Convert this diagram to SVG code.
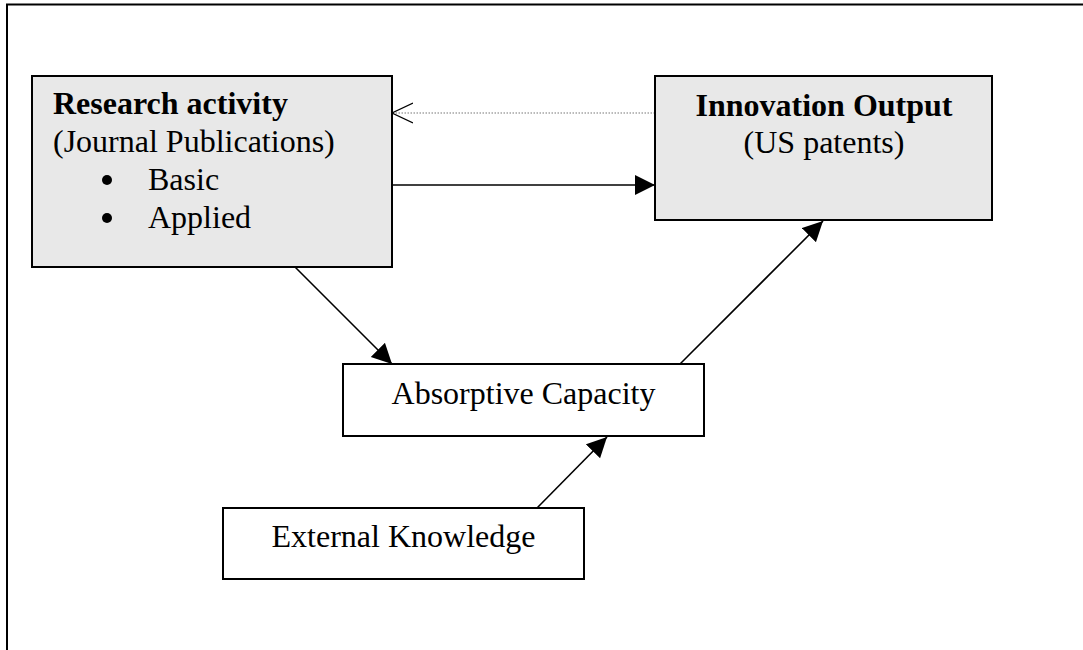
<svg xmlns="http://www.w3.org/2000/svg" width="1083" height="650" viewBox="0 0 1083 650">
  <style>
    .box { stroke: #000; stroke-width: 2; }
    .gray { fill: #e8e8e8; }
    .white { fill: #fff; }
    text { font-family: "Liberation Serif", "Times New Roman", serif; font-size: 32px; fill: #000; }
    .b { font-weight: bold; }
    .conn { stroke: #000; stroke-width: 1.6; fill: none; }
    .dot { stroke: #777; stroke-width: 1.2; stroke-dasharray: 1.5 1.5; fill: none; }
  </style>
  <defs>
    <marker id="filled" markerUnits="userSpaceOnUse" markerWidth="22" markerHeight="22" refX="20" refY="10" orient="auto" viewBox="0 0 22 22">
      <path d="M0,0 L20,10 L0,20 z" fill="#000"/>
    </marker>
    <marker id="open" markerUnits="userSpaceOnUse" markerWidth="24" markerHeight="24" refX="21" refY="11" orient="auto" viewBox="0 0 24 24">
      <path d="M0,1 L21,11 L0,21" fill="none" stroke="#000" stroke-width="1.3"/>
    </marker>
  </defs>
  <rect x="0" y="0" width="1083" height="650" fill="#fff"/>
  <path d="M7,660 L7,4.5 L1100,4.5" fill="none" stroke="#000" stroke-width="2"/>

  <g id="connectors">
    <line class="dot" x1="655" y1="113" x2="392" y2="113" marker-end="url(#open)"/>
    <line class="conn" x1="392" y1="185" x2="655" y2="185" marker-end="url(#filled)"/>
    <line class="conn" x1="295" y1="267" x2="392" y2="364" marker-end="url(#filled)"/>
    <line class="conn" x1="680" y1="364" x2="823" y2="221" marker-end="url(#filled)"/>
    <line class="conn" x1="537" y1="508" x2="607" y2="437" marker-end="url(#filled)"/>
  </g>

  <g id="research">
    <rect class="box gray" x="32" y="76" width="360" height="191"/>
    <text class="b" x="53" y="114">Research activity</text>
    <text x="53" y="152">(Journal Publications)</text>
    <circle cx="107" cy="180" r="5"/>
    <text x="148" y="190">Basic</text>
    <circle cx="107" cy="218" r="5"/>
    <text x="148" y="228">Applied</text>
  </g>

  <g id="innovation">
    <rect class="box gray" x="655" y="76" width="337" height="144"/>
    <text class="b" x="824" y="116" text-anchor="middle">Innovation Output</text>
    <text x="824" y="153" text-anchor="middle">(US patents)</text>
  </g>

  <g id="absorptive">
    <rect class="box white" x="343" y="364" width="361" height="72"/>
    <text x="523.5" y="404" text-anchor="middle">Absorptive Capacity</text>
  </g>

  <g id="external">
    <rect class="box white" x="223" y="508" width="361" height="71"/>
    <text x="403.5" y="547" text-anchor="middle">External Knowledge</text>
  </g>
</svg>
